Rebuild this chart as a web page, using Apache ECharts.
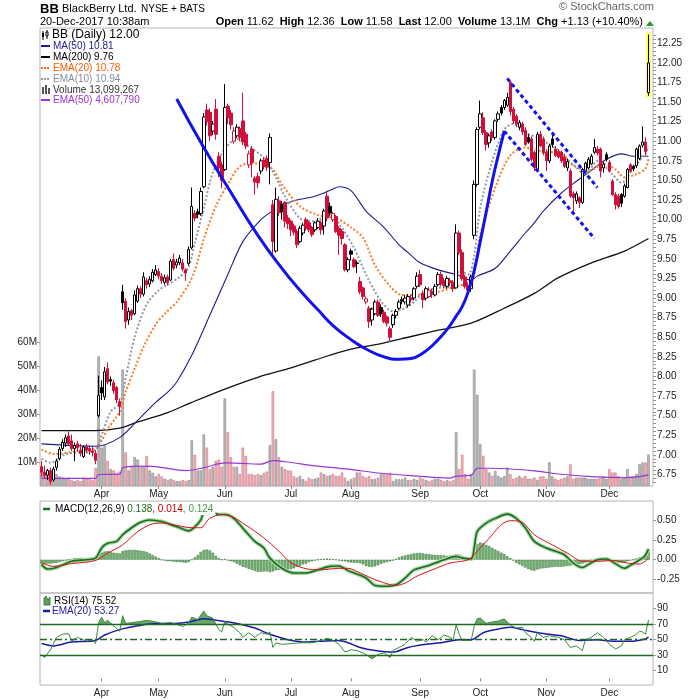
<!DOCTYPE html>
<html><head><meta charset="utf-8">
<script src="https://cdn.jsdelivr.net/npm/echarts@6/dist/echarts.min.js"></script>
<style>html,body{margin:0;padding:0;background:#fff}#c{width:700px;height:700px}</style>
</head><body><div id="c"></div>
<script>
// ================= DATA =================
const firstDay = '2017-03-06', lastDay = '2017-12-20';
const holidays = ['2017-04-14','2017-05-29','2017-07-04','2017-09-04','2017-11-23'];
const monthNames = ['Jan','Feb','Mar','Apr','May','Jun','Jul','Aug','Sep','Oct','Nov','Dec'];

// daily candles: [open, high, low, close]
const ohlc = [
[6.85,6.92,6.72,6.78],[6.78,6.86,6.70,6.74],[6.74,6.82,6.68,6.80],[6.80,6.84,6.62,6.66],[6.68,6.85,6.66,6.82],
[6.84,6.95,6.80,6.92],[6.95,7.10,6.93,7.07],[7.08,7.20,7.05,7.16],[7.15,7.26,7.10,7.22],[7.24,7.30,7.12,7.14],
[7.18,7.26,7.05,7.08],[7.08,7.16,6.92,7.12],[7.14,7.18,7.04,7.09],[7.06,7.14,6.98,7.02],[6.98,7.12,6.96,7.10],
[7.10,7.14,7.02,7.06],[7.08,7.12,7.00,7.05],[7.05,7.10,6.98,7.03],[7.02,7.06,6.88,6.93],[7.50,8.01,7.48,7.76],
[7.86,7.95,7.70,7.79],[7.74,8.12,7.70,8.06],[8.10,8.18,7.90,7.93],[7.96,8.00,7.88,7.94],[7.92,7.96,7.78,7.82],
[7.86,7.88,7.66,7.70],[7.68,7.72,7.50,7.62],[9.08,9.17,8.85,8.94],[8.96,9.00,8.61,8.70],[8.72,8.88,8.66,8.83],
[8.84,8.86,8.72,8.78],[8.80,9.10,8.78,9.04],[8.96,9.16,8.94,9.12],[9.12,9.15,9.00,9.05],[9.05,9.33,9.02,9.27],
[9.22,9.26,9.12,9.17],[9.18,9.28,9.14,9.24],[9.22,9.37,9.20,9.33],[9.30,9.42,9.28,9.36],[9.34,9.38,9.24,9.28],
[9.28,9.32,9.18,9.22],[9.20,9.30,9.17,9.26],[9.27,9.30,9.16,9.20],[9.23,9.50,9.22,9.47],[9.49,9.57,9.35,9.38],
[9.42,9.50,9.38,9.46],[9.45,9.55,9.42,9.51],[9.45,9.50,9.34,9.37],[9.36,9.38,9.22,9.32],[9.44,9.66,9.42,9.62],
[9.64,10.41,9.62,10.17],[10.08,10.12,9.98,10.02],[10.10,10.14,10.02,10.07],[10.08,10.41,10.05,10.36],[10.42,11.36,10.40,11.31],
[11.40,11.48,11.20,11.25],[11.37,11.42,11.00,11.07],[11.13,11.26,11.08,11.22],[11.41,11.54,11.02,11.09],[10.81,10.86,10.54,10.66],
[10.70,10.74,10.40,10.50],[10.64,11.73,10.62,11.43],[11.45,11.48,11.22,11.30],[11.36,11.40,11.15,11.21],[11.00,11.18,10.97,11.13],
[11.07,11.22,11.04,11.18],[11.16,11.19,11.00,11.05],[11.26,11.62,10.95,10.99],[11.09,11.12,10.90,10.94],[10.70,10.88,10.66,10.84],
[10.90,10.94,10.54,10.73],[10.53,10.56,10.32,10.48],[10.55,10.60,10.40,10.47],[10.62,10.78,10.58,10.75],[10.76,10.80,10.64,10.68],
[10.78,10.82,10.62,10.67],[10.73,11.10,10.45,11.05],[10.19,10.25,9.55,9.72],[9.60,10.41,9.58,10.26],[10.24,10.30,10.05,10.09],
[10.20,10.24,10.00,10.10],[10.22,10.24,9.90,9.98],[10.02,10.06,9.88,9.95],[9.98,10.00,9.79,9.87],[9.92,9.95,9.80,9.84],
[9.85,9.88,9.64,9.68],[9.72,9.92,9.70,9.89],[9.83,9.96,9.80,9.93],[10.00,10.03,9.86,9.89],[9.96,9.98,9.84,9.87],
[9.90,9.92,9.78,9.81],[9.87,9.98,9.84,9.96],[9.90,10.02,9.88,9.98],[9.96,9.99,9.81,9.87],[9.92,10.14,9.81,10.11],
[10.30,10.37,9.98,10.02],[10.17,10.22,10.05,10.09],[10.00,10.10,9.97,10.08],[10.04,10.06,9.83,9.85],[9.89,9.92,9.55,9.80],
[9.85,9.88,9.68,9.76],[9.68,9.70,9.34,9.36],[9.36,9.52,9.33,9.49],[9.60,9.63,9.48,9.56],[9.49,9.52,9.38,9.40],
[9.45,9.48,9.32,9.44],[9.21,9.27,9.05,9.08],[9.13,9.15,8.98,9.02],[8.95,9.02,8.92,8.99],[8.87,8.90,8.62,8.70],
[8.72,8.88,8.65,8.86],[8.80,8.98,8.78,8.95],[8.95,8.98,8.76,8.78],[8.88,8.92,8.76,8.80],[8.82,8.85,8.68,8.70],
[8.76,8.78,8.64,8.68],[8.61,8.64,8.44,8.50],[8.66,8.80,8.62,8.78],[8.78,8.86,8.74,8.83],[8.87,8.98,8.85,8.95],
[8.98,9.02,8.92,8.96],[8.95,9.04,8.92,9.00],[8.91,9.05,8.88,9.02],[9.00,9.04,8.94,8.98],[9.00,9.14,8.97,9.12],
[9.15,9.33,9.12,9.28],[9.30,9.36,9.14,9.17],[9.06,9.10,8.87,8.98],[9.00,9.15,8.97,9.12],[9.02,9.14,9.00,9.10],
[9.08,9.12,9.00,9.05],[9.04,9.18,9.02,9.15],[9.17,9.33,9.15,9.30],[9.30,9.34,9.15,9.18],[9.22,9.26,9.12,9.16],
[9.15,9.28,9.12,9.25],[9.22,9.26,9.16,9.20],[9.20,9.23,9.08,9.12],[9.13,9.94,9.12,9.83],[9.83,9.86,9.55,9.58],
[9.58,9.62,9.22,9.25],[9.27,9.30,9.12,9.15],[9.16,9.20,9.05,9.10],[9.12,9.30,9.08,9.27],[9.80,10.50,9.75,10.45],
[10.45,11.18,10.42,11.15],[11.18,11.52,11.15,11.35],[11.30,11.37,11.08,11.11],[11.11,11.14,10.88,10.96],[10.98,11.10,10.92,11.07],
[11.12,11.15,11.00,11.05],[11.05,11.28,11.02,11.26],[11.28,11.38,11.25,11.35],[11.43,11.46,11.33,11.36],[11.43,11.54,11.40,11.52],
[11.46,11.62,11.44,11.56],[11.75,11.77,11.33,11.38],[11.41,11.44,11.22,11.26],[11.32,11.35,11.18,11.22],[11.18,11.27,11.14,11.24],
[11.22,11.25,11.08,11.12],[11.14,11.18,10.94,10.96],[11.05,11.09,10.97,10.99],[11.03,11.06,10.74,10.77],[10.86,10.88,10.62,10.66],
[10.64,11.12,10.62,11.09],[11.09,11.13,10.92,10.94],[11.03,11.06,10.82,10.85],[10.86,10.90,10.62,10.75],[10.75,10.97,10.72,10.94],
[11.03,11.08,10.92,10.96],[10.90,10.94,10.80,10.82],[10.87,10.90,10.78,10.80],[10.86,10.88,10.72,10.75],[10.80,10.84,10.66,10.68],
[10.66,10.78,10.62,10.74],[10.62,10.65,10.28,10.30],[10.33,10.36,10.07,10.28],[10.24,10.36,10.20,10.33],[10.28,10.30,10.15,10.22],
[10.22,10.66,10.20,10.64],[10.62,10.74,10.60,10.72],[10.66,10.80,10.64,10.77],[10.71,10.84,10.70,10.81],[10.86,11.03,10.84,10.92],
[10.90,10.94,10.82,10.85],[10.90,10.92,10.54,10.62],[10.66,10.74,10.60,10.71],[10.83,10.86,10.74,10.77],[10.73,10.76,10.60,10.62],
[10.49,10.52,10.30,10.32],[10.32,10.35,10.13,10.19],[10.30,10.33,10.14,10.17],[10.32,10.34,10.16,10.21],[10.30,10.46,10.28,10.43],
[10.41,10.66,10.40,10.64],[10.70,10.72,10.60,10.62],[10.68,10.70,10.62,10.65],[10.69,10.92,10.66,10.90],[10.78,10.96,10.76,10.94],
[10.95,11.19,10.92,10.99],[10.99,11.05,10.82,10.87],[11.62,12.36,11.58,12.00]
];

// daily volume, millions of shares
const volumeM = [
7.5,6,4.5,3,4.5,5,4,3.5,3,3.5,2.5,2,2.5,2,3.5,3,3,2.5,7.5,
54,16,17,10.5,7,6.5,5.5,6,48.5,14,6.5,8,12,11,8,8,12.5,6.5,5.5,4,5,4,3,
2.5,3,2.5,2,2,2.5,2,2.5,19,13,6.5,6.5,21.5,16,7,8,10.5,11,8,
36.5,22.5,12,8,8,5,16,12.5,5,5,4.5,5,4.5,5.5,6,17,39.5,19.5,12,8,7,6.5,
6.3,4,3.5,4.2,2.8,2.1,3.5,2.8,3,3.5,5.6,5,4.2,4.5,5,4.2,4.2,5.6,3.5,2.1,
2.8,3.5,5.6,5.6,4.2,3.5,4.2,2.8,3,3.5,4.9,4.9,4.9,5.5,2.1,2.8,2.8,2.8,3.5,2.5,
2.5,3,2.5,3.5,3,2.5,2,2.5,3,3,2.5,2,2.5,2,2.5,
22.4,7,13,5,3,5,48.5,38,17.5,12.6,7,5.6,4.2,6.3,4.2,3.5,4.2,7.7,5,3,3.5,4.2,3.5,4.2,3,
3,3.5,2.5,4,4,3,9.8,4,3,2.5,3,3.5,4,9,3,3.5,3.5,3.5,3.5,3,3,3,3,3.5,4,3,7,5.6,5.6,4,3,3.5,7,4,4,5,9,9.8,9.8,13.1
];

// indicator lines: [trading-day index, value]
const ma50 = [[0,7.14],[18,7.11],[26,7.22],[32,7.44],[38,7.67],[42,7.80],[45,7.93],[50,8.27],[56,8.78],[62,9.30],[67,9.72],[73,10.00],[76,10.09],[79,10.17],[83,10.23],[86,10.26],[91,10.30],[97,10.39],[99,10.42],[103,10.37],[108,10.11],[114,9.90],[119,9.68],[122,9.58],[126,9.45],[132,9.36],[138,9.30],[143,9.23],[145,9.28],[151,9.38],[156,9.60],[161,9.83],[164,9.96],[167,10.11],[173,10.34],[178,10.49],[184,10.66],[188,10.77],[193,10.84],[197,10.81],[202,10.81]];
const ma200 = [[0,7.31],[18,7.31],[26,7.34],[32,7.42],[42,7.54],[50,7.67],[61,7.84],[72,7.99],[83,8.11],[91,8.21],[102,8.34],[113,8.42],[123,8.51],[132,8.59],[143,8.68],[154,8.87],[164,9.06],[172,9.26],[183,9.45],[194,9.60],[202,9.76]];
const ema20 = [[0,7.07],[4,7.01],[12,7.05],[18,7.08],[20,7.18],[22,7.33],[26,7.55],[28,7.80],[31,8.10],[34,8.38],[38,8.66],[41,8.80],[45,8.95],[49,9.18],[51,9.35],[54,9.75],[58,10.17],[62,10.45],[66,10.68],[70,10.72],[74,10.70],[77,10.64],[80,10.45],[86,10.17],[92,10.06],[98,10.02],[103,9.90],[107,9.77],[111,9.42],[116,9.15],[120,9.04],[124,9.04],[132,9.08],[138,9.15],[143,9.20],[144,9.30],[146,9.80],[151,10.41],[156,10.82],[161,10.92],[166,10.88],[172,10.84],[177,10.69],[182,10.62],[187,10.71],[191,10.64],[194,10.54],[198,10.58],[201,10.65],[202,10.78]];
const ema10 = [[0,6.95],[3,6.90],[8,7.01],[18,7.06],[20,7.25],[23,7.55],[26,7.65],[28,7.98],[31,8.50],[35,8.92],[39,9.10],[42,9.17],[46,9.27],[49,9.40],[51,9.70],[54,10.15],[57,10.60],[61,10.90],[65,11.03],[69,10.93],[74,10.79],[78,10.54],[81,10.30],[86,10.02],[91,9.98],[96,10.08],[99,9.95],[104,9.64],[108,9.30],[113,8.96],[117,8.83],[121,8.87],[124,8.95],[127,9.07],[132,9.13],[137,9.16],[139,9.35],[142,9.30],[144,9.55],[146,10.15],[150,10.75],[154,11.15],[157,11.22],[161,11.11],[166,11.03],[172,10.88],[177,10.70],[181,10.58],[185,10.75],[190,10.58],[193,10.47],[197,10.66],[201,10.84],[202,10.94]];
const volEma50 = [[0,3.2],[18,3.2],[19,4.8],[26,4.9],[27,7.6],[32,8.3],[38,8.1],[48,6.4],[54,7.6],[61,9.6],[67,9.4],[73,9.1],[77,10.6],[82,10.0],[91,8.4],[102,7.0],[113,5.3],[123,4.3],[136,3.3],[138,4.1],[143,4.5],[144,6.0],[145,7.4],[150,7.4],[164,6.3],[172,5.0],[183,3.9],[194,3.5],[199,3.9],[202,4.6]];

// hand-drawn annotations (price space)
const cupCurve = [[45,11.54],[54,10.92],[63,10.35],[72,9.80],[80,9.38],[86,9.10],[92,8.85],[97,8.65],[103,8.47],[108,8.35],[114,8.25],[119,8.22],[123,8.23],[127,8.30],[131,8.43],[135,8.60],[138,8.77],[140,8.89],[142,9.08],[144,9.35],[146,9.72],[148,10.10],[150,10.49],[152,10.82],[154,11.13]];
const wedgeUpper = [[155,11.80],[185,10.41]];
const wedgeLower = [[154,11.13],[184,9.76]];

// MACD(12,26,9)
const macdLine = [[0,-0.06],[2,-0.12],[5,-0.10],[10,-0.02],[15,0.0],[18,0.02],[20,0.15],[22,0.21],[25,0.235],[27,0.32],[30,0.41],[33,0.48],[36,0.51],[40,0.49],[43,0.45],[46,0.41],[49,0.37],[51,0.42],[53,0.51],[54,0.60],[56,0.62],[59,0.58],[61,0.58],[64,0.53],[68,0.36],[71,0.235],[74,0.15],[76,0.02],[80,-0.11],[84,-0.17],[88,-0.17],[92,-0.13],[96,-0.085],[99,-0.08],[102,-0.14],[104,-0.17],[108,-0.235],[111,-0.33],[114,-0.34],[118,-0.32],[121,-0.235],[124,-0.13],[128,-0.085],[131,-0.043],[134,0.0],[138,0.043],[140,0.02],[143,0.01],[144,0.15],[145,0.36],[148,0.47],[151,0.53],[155,0.585],[158,0.53],[161,0.41],[164,0.235],[168,0.15],[171,0.11],[174,0.064],[177,-0.043],[180,-0.10],[182,-0.06],[185,0.0],[188,0.01],[191,-0.05],[194,-0.11],[196,-0.07],[200,0.02],[201,0.06],[202,0.138]];
const macdSignal = [[0,-0.04],[4,-0.085],[10,-0.05],[18,-0.01],[22,0.085],[27,0.19],[32,0.36],[37,0.46],[41,0.47],[45,0.44],[50,0.41],[53,0.41],[56,0.53],[60,0.58],[63,0.56],[67,0.47],[74,0.28],[79,0.11],[83,-0.04],[88,-0.115],[93,-0.13],[99,-0.11],[102,-0.11],[106,-0.17],[112,-0.27],[118,-0.33],[121,-0.30],[125,-0.21],[131,-0.115],[136,-0.043],[142,0.0],[145,0.11],[150,0.32],[153,0.45],[156,0.50],[160,0.48],[164,0.32],[170,0.19],[175,0.085],[180,-0.02],[185,-0.02],[190,-0.01],[195,-0.043],[199,-0.055],[202,0.014]];
const macdHist = [
-0.05,-0.055,-0.05,-0.05,-0.045,-0.04,-0.03,-0.02,-0.01,0.0,
0.01,0.02,0.02,0.025,0.02,0.02,0.015,0.01,0.02,
0.06,0.09,0.105,0.11,0.10,0.09,0.085,0.08,0.11,0.12,0.125,
0.125,0.125,0.12,0.115,0.11,0.10,0.08,0.06,0.04,0.02,
0.0,-0.01,-0.02,-0.02,-0.025,-0.03,-0.03,-0.035,-0.04,-0.03,
0.0,0.03,0.06,0.10,0.125,0.13,0.12,0.09,0.05,0.02,
0.0,0.01,-0.01,-0.02,-0.03,-0.05,-0.07,-0.09,-0.10,-0.12,
-0.13,-0.145,-0.155,-0.155,-0.15,-0.15,-0.16,-0.15,-0.135,-0.13,
-0.13,-0.125,-0.125,-0.12,-0.11,-0.09,-0.08,-0.06,-0.05,-0.03,
-0.02,-0.01,0.0,0.005,0.01,0.015,0.01,0.005,0.0,-0.01,
-0.015,-0.02,-0.03,-0.035,-0.04,-0.04,-0.045,-0.06,-0.08,-0.09,
-0.09,-0.085,-0.07,-0.05,-0.04,-0.03,-0.02,-0.01,0.01,0.03,
0.045,0.055,0.065,0.07,0.08,0.085,0.085,0.08,0.075,0.07,
0.065,0.06,0.06,0.055,0.055,0.05,0.05,0.05,0.07,0.065,
0.05,0.035,0.02,0.01,0.10,0.20,0.22,0.21,0.19,0.175,
0.15,0.13,0.11,0.09,0.07,0.045,0.02,-0.01,-0.04,-0.06,
-0.08,-0.10,-0.12,-0.135,-0.14,-0.125,-0.115,-0.11,-0.105,-0.10,
-0.095,-0.09,-0.09,-0.09,-0.085,-0.08,-0.075,-0.07,-0.065,-0.06,
-0.05,-0.035,-0.02,-0.01,0.005,0.015,0.02,0.02,0.015,0.005,
-0.01,-0.025,-0.035,-0.04,-0.035,-0.02,-0.01,0.0,0.015,0.03,
0.04,0.05,0.124
];

// RSI(14) and its EMA(20)
const rsi14 = [[0,31],[1,27],[3,37],[5,53],[7,57],[9,58],[10,48],[12,53],[15,48],[17,50],[18,45],[19,72],[20,79],[21,72],[22,75],[24,68],[26,61],[27,81],[28,71],[30,72],[32,73],[35,75],[38,73],[40,71],[43,72],[45,70],[47,67],[49,72],[50,79],[52,76],[54,87],[55,81],[57,78],[59,63],[60,60],[61,74],[62,70],[64,66],[66,59],[67,53],[69,59],[71,53],[73,59],[75,57],[76,60],[77,40],[78,46],[80,44],[83,45],[86,46],[90,46],[92,48],[94,50],[95,52],[97,49],[99,44],[101,34],[103,37],[105,36],[108,31],[110,25],[112,31],[114,33],[116,27],[117,36],[119,40],[121,44],[123,53],[125,48],[127,50],[128,47],[130,55],[132,50],[134,56],[136,53],[137,50],[138,69],[139,57],[140,49],[143,49],[144,68],[145,77],[146,78],[148,71],[150,73],[152,74],[154,77],[156,69],[158,65],[160,66],[161,59],[163,53],[164,48],[165,59],[167,53],[169,55],[172,53],[174,50],[176,40],[178,42],[180,36],[181,50],[183,53],[185,59],[187,53],[189,44],[191,38],[193,42],[194,50],[196,53],[198,57],[199,61],[200,60],[201,57],[202,75.52]];
const rsiEma20 = [[0,45],[4,42],[10,47],[18,49],[21,56],[26,63],[32,68],[38,71],[43,71],[49,73],[54,77],[58,75],[65,71],[71,65],[76,57],[82,50],[88,47],[93,48],[99,49],[102,46],[106,40],[111,36],[117,34],[122,40],[128,44],[133,46],[139,50],[143,50],[147,59],[151,63],[156,66],[160,63],[167,58],[173,55],[179,49],[185,50],[190,48],[196,48],[201,51],[202,53.27]];
const rsiLevels = [30, 50, 70];

// axis tick labels
const priceTicks = [6.75,7,7.25,7.5,7.75,8,8.25,8.5,8.75,9,9.25,9.5,9.75,10,10.25,10.5,10.75,11,11.25,11.5,11.75,12,12.25];
const volumeTicks = [10,20,30,40,50,60];
const macdTicks = [-0.25,0,0.25,0.5];
const rsiTicks = [10,30,50,70,90];

// ================= BUILD =================
function buildDates(){
  const out=[]; let t=Date.parse(firstDay+'T00:00:00Z'); const end=Date.parse(lastDay+'T00:00:00Z');
  while(t<=end){ const d=new Date(t); const wd=d.getUTCDay(); const s=d.toISOString().slice(0,10);
    if(wd!==0&&wd!==6&&holidays.indexOf(s)<0) out.push(s); t+=86400000; }
  return out;
}
const dates = buildDates();
const cats = dates.concat(['']);
const isMonthStart = i => i>0 && i<dates.length && dates[i].slice(5,7)!==dates[i-1].slice(5,7);
const monthFmt = v => v ? monthNames[+v.slice(5,7)-1] : '';
const last = ohlc.length-1;

const FONT = '"Liberation Sans", Arial, sans-serif';
const RED='#d0103a', BLK='#000000';

const candleData = ohlc.map((r,i)=>{
  const [o,h,l,c]=r; const prev = i? ohlc[i-1][3] : o;
  const col = c < prev ? RED : BLK; const hollow = c >= o;
  return {value:[o,c,l,h], itemStyle:{color:hollow?'#fff':col, color0:hollow?'#fff':col, borderColor:col, borderColor0:col}};
});
const volData = volumeM.map((v,i)=>{
  const down = i>0 && ohlc[i][3] < ohlc[i-1][3];
  return {value:v, itemStyle:{color:down?'#efb7bd':'#bcbcbc', borderColor:down?'#d0707e':'#858585', borderWidth:0.6}};
});
const hlBase = ohlc.map((r,i)=> i===last ? +(r[2]-0.02).toFixed(2) : '-');
const hlTop  = ohlc.map((r,i)=> i===last ? +(r[1]-r[2]+0.05).toFixed(2) : '-');

const priceMinorTicks = [];
for (let k=0;k<priceTicks.length;k++){ for(let j=-2;j<=2;j++){ const v=+(priceTicks[k]+j*0.05).toFixed(2); if(priceMinorTicks.indexOf(v)<0) priceMinorTicks.push(v);} }

// clip an RSI polyline (pixel points) against a horizontal level, keeping the side beyond it
function clipPoly(pts, yb, above){
  const f = y => above ? Math.min(y, yb) : Math.max(y, yb);
  const out=[[pts[0][0], yb]];
  for (let k=0;k<pts.length;k++){
    const p=pts[k];
    if(k>0){ const q=pts[k-1]; const dq=q[1]-yb, dp=p[1]-yb;
      if(dq*dp<0){ const t=dq/(dq-dp); out.push([q[0]+t*(p[0]-q[0]), yb]); } }
    out.push([p[0], f(p[1])]);
  }
  out.push([pts[pts.length-1][0], yb]);
  return out;
}

// layout
const L=40, R=47;
const grids = [
  {left:L,right:R,top:28,height:458,show:true,borderColor:'#b4b4b4',borderWidth:1},
  {left:L,right:R,top:501,height:92,show:true,borderColor:'#b4b4b4',borderWidth:1},
  {left:L,right:R,top:593,height:92,show:true,borderColor:'#b4b4b4',borderWidth:1}
];
const lblStyle = {fontSize:10, color:'#222', fontFamily:FONT};
function xCat(grid, labels, show){
  return {type:'category', gridIndex:grid, data:cats, boundaryGap:true, show:show!==false,
    axisLine:{show:false}, splitLine:{show:false},
    axisTick:{show:labels, interval:(i)=>isMonthStart(i), alignWithLabel:true, length:3, lineStyle:{color:'#888'}},
    axisLabel:Object.assign({show:labels, interval:(i)=>isMonthStart(i), formatter:monthFmt, margin:3}, lblStyle)};
}
const line = (name, data, xi, yi, style, extra) => Object.assign({name, type:'line', xAxisIndex:xi, yAxisIndex:yi, data, showSymbol:false, symbol:'none', silent:true, lineStyle:style}, extra||{});

const option = {
  animation:false,
  backgroundColor:'#fff',
  grid: grids,
  xAxis: [ xCat(0,true), xCat(0,false,false), xCat(1,false), xCat(2,true) ],
  yAxis: [
    {type:'value', gridIndex:0, position:'right', min:6.603, max:12.445, splitLine:{show:false}, axisLine:{show:false},
      axisTick:{show:true, customValues:priceMinorTicks, length:3, lineStyle:{color:'#999'}},
      axisLabel:Object.assign({customValues:priceTicks, formatter:v=>v.toFixed(2), margin:4}, lblStyle)},
    {type:'value', gridIndex:0, position:'left', min:0, max:190.8, splitLine:{show:false}, axisLine:{show:false},
      axisTick:{show:true, customValues:volumeTicks, length:3, lineStyle:{color:'#999'}},
      axisLabel:Object.assign({customValues:volumeTicks, formatter:v=>v+'M', margin:3}, lblStyle)},
    {type:'value', gridIndex:1, position:'right', min:-0.427, max:0.753, splitLine:{show:false}, axisLine:{show:false},
      axisTick:{show:true, customValues:macdTicks, length:3, lineStyle:{color:'#999'}},
      axisLabel:Object.assign({customValues:macdTicks, formatter:v=>v.toFixed(2), margin:4}, lblStyle)},
    {type:'value', gridIndex:2, position:'right', min:-8.5, max:110.3, splitLine:{show:false}, axisLine:{show:false},
      axisTick:{show:true, customValues:rsiTicks, length:3, lineStyle:{color:'#999'}},
      axisLabel:Object.assign({customValues:rsiTicks, margin:4}, lblStyle)}
  ],
  series: [
    {type:'bar', xAxisIndex:1, yAxisIndex:0, stack:'hl', data:hlBase, barWidth:5, silent:true, itemStyle:{color:'rgba(0,0,0,0)'}},
    {type:'bar', xAxisIndex:1, yAxisIndex:0, stack:'hl', data:hlTop, barWidth:5, silent:true, itemStyle:{color:'#ffff5a'}},
    {type:'bar', xAxisIndex:0, yAxisIndex:1, data:volData, barWidth:'82%', silent:true, z:1},
    line('volEma50', volEma50, 0, 1, {color:'#9a35d6', width:1.2}, {smooth:0.3, z:2}),
    line('ma200', ma200, 0, 0, {color:'#111', width:1.3}, {smooth:0.3, z:3}),
    line('ma50', ma50, 0, 0, {color:'#1c1c8e', width:1.1}, {smooth:0.3, z:3}),
    line('ema20', ema20, 0, 0, {color:'#ff7a22', width:2, type:[2,2]}, {smooth:0.3, z:3}),
    line('ema10', ema10, 0, 0, {color:'#8d99a6', width:2, type:[2,2]}, {smooth:0.3, z:3}),
    {type:'candlestick', xAxisIndex:0, yAxisIndex:0, data:candleData, barWidth:3, silent:true, z:4},
    line('cup', cupCurve, 0, 0, {color:'#1212ee', width:3}, {smooth:0.5, z:5}),
    line('wedgeUp', wedgeUpper, 0, 0, {color:'#1212ee', width:3, type:[4,3]}, {z:5}),
    line('wedgeLo', wedgeLower, 0, 0, {color:'#1212ee', width:3, type:[4,3]}, {z:5}),
    {type:'bar', xAxisIndex:2, yAxisIndex:2, data:macdHist, barWidth:'82%', silent:true, itemStyle:{color:'#7ab97a', borderColor:'#2e6e2e', borderWidth:0.5}},
    line('macdHalo', macdLine, 2, 2, {color:'#a9d8a9', width:4}, {smooth:0.3}),
    line('macd', macdLine, 2, 2, {color:'#1d6b1d', width:1.6}, {smooth:0.3}),
    line('signal', macdSignal, 2, 2, {color:'#dd1111', width:1}, {smooth:0.3}),
    {type:'custom', xAxisIndex:3, yAxisIndex:3, data:[[0,50]], silent:true, z:2,
      renderItem:(params, api)=>{
        const pts = rsi14.map(p=>api.coord(p));
        const y70 = api.coord([0,70])[1], y30 = api.coord([0,30])[1];
        return {type:'group', children:[
          {type:'polygon', shape:{points:clipPoly(pts, y70, true)}, style:{fill:'#6aa86a'}},
          {type:'polygon', shape:{points:clipPoly(pts, y30, false)}, style:{fill:'#6aa86a'}}
        ]};
      }},
    line('rsiEma', rsiEma20, 3, 3, {color:'#1a1aa6', width:1.5}, {smooth:0.3, z:3}),
    line('rsi', rsi14, 3, 3, {color:'#3c8c3c', width:1}, {z:4, markLine:{symbol:'none', silent:true, label:{show:false},
      data: rsiLevels.map(v=>({yAxis:v, lineStyle:{color:'#1f6a1f', width:1.4, type: v===50?[7,3,2,3]:'solid'}}))}})
  ],
  graphic: { elements: buildGraphics() }
};

function T(x,y,text,o){ o=o||{};
  return {type:'text', x, y, z:100, silent:true, style:Object.assign({text, font:(o.bold?'bold ':'')+(o.size||10)+'px '+FONT, fill:o.color||'#000',
    align:o.align||'left', verticalAlign:'middle', textAlign:o.align||'left', textVerticalAlign:'middle'}, o.extra||{})};
}
function Ln(x1,y1,x2,y2,color,w,dash){ return {type:'line', z:100, silent:true, shape:{x1,y1,x2,y2}, style:{stroke:color, lineWidth:w||2, lineDash:dash||null}}; }
function Rc(x,y,w,h,fill,stroke){ return {type:'rect', z:100, silent:true, shape:{x,y,width:w,height:h}, style:{fill, stroke:stroke||null, lineWidth:1}}; }
function buildGraphics(){
  const g=[];
  g.push(T(40,9,'BB',{bold:true,size:13}));
  g.push(T(62,9,'BlackBerry Ltd.',{size:11}));
  g.push(T(141,9,'NYSE + BATS',{size:10}));
  g.push(T(40,22,'20-Dec-2017 10:38am',{size:11}));
  g.push(T(654,7,'\u00A9 StockCharts.com',{size:11,color:'#666',align:'right'}));
  g.push({type:'text', x:643, y:22, z:100, silent:true, style:{text:'{b|Open} 11.62  {b|High} 12.36  {b|Low} 11.58  {b|Last} 12.00  {b|Volume} 13.1M  {b|Chg} +1.13 (+10.40%)',
    font:'11px '+FONT, fill:'#000', align:'right', textAlign:'right', verticalAlign:'middle', textVerticalAlign:'middle',
    rich:{b:{fontWeight:'bold', fontSize:11, fontFamily:FONT}}}});
  g.push({type:'polygon', z:100, silent:true, shape:{points:[[646,26],[654,26],[650,21]]}, style:{fill:'#2a9a2a'}});
  // price legend
  const lx=41;
  g.push(Ln(43,31,43,40,'#000',1)); g.push(Rc(42,33,2,4,'#000')); g.push(Ln(47,30,47,39,'#000',1)); g.push(Rc(46,32,2,4,'#fff','#000'));
  g.push(T(52,35,'BB (Daily) 12.00',{size:12}));
  g.push(Ln(lx,46,lx+9,46,'#1c1c8e',2)); g.push(T(53,46,'MA(50) 10.81',{color:'#1c1c8e'}));
  g.push(Ln(lx,57,lx+9,57,'#000',2)); g.push(T(53,57,'MA(200) 9.76',{color:'#000'}));
  g.push(Ln(lx,68,lx+9,68,'#ff6a10',2,[2,1])); g.push(T(53,68,'EMA(20) 10.78',{color:'#ff5a00'}));
  g.push(Ln(lx,79,lx+9,79,'#8d99a6',2,[2,1])); g.push(T(53,79,'EMA(10) 10.94',{color:'#8090a0'}));
  g.push(Rc(42,87,2,7,'#555')); g.push(Rc(45,85,2,9,'#555')); g.push(Rc(48,88,2,6,'#555'));
  g.push(T(53,90,'Volume 13,099,267',{color:'#333'}));
  g.push(Ln(lx,100,lx+9,100,'#9a35d6',2)); g.push(T(53,100,'EMA(50) 4,607,790',{color:'#9a35d6'}));
  // MACD legend
  g.push(Ln(43,509,50,509,'#1d6b1d',2.5));
  g.push({type:'text', x:54, y:509, z:100, silent:true, style:{text:'MACD(12,26,9) {g|0.138}{r|, 0.014}{l|, 0.124}', font:'10px '+FONT, fill:'#000',
    align:'left', textAlign:'left', verticalAlign:'middle', textVerticalAlign:'middle', backgroundColor:'#fff', padding:[1,2,1,1],
    rich:{g:{fill:'#1d6b1d',color:'#1d6b1d'}, r:{fill:'#cc0000',color:'#cc0000'}, l:{fill:'#4a9a4a',color:'#4a9a4a'}}}});
  // RSI legend
  g.push({type:'polygon', z:100, silent:true, shape:{points:[[44,605],[44,598],[46,596],[48,600],[50,597],[50,605]]}, style:{fill:'#5f9f5f', stroke:'#2a6a2a', lineWidth:0.8}});
  g.push(T(54,601,'RSI(14) 75.52',{color:'#000'}));
  g.push(Ln(43,611,50,611,'#1a1aa6',2.5)); g.push(T(52,611,'EMA(20) 53.27',{color:'#1a1aa6'}));
  return g;
}

const chart = echarts.init(document.getElementById('c'), null, {renderer:'canvas'});
chart.setOption(option);
</script>
</body></html>
